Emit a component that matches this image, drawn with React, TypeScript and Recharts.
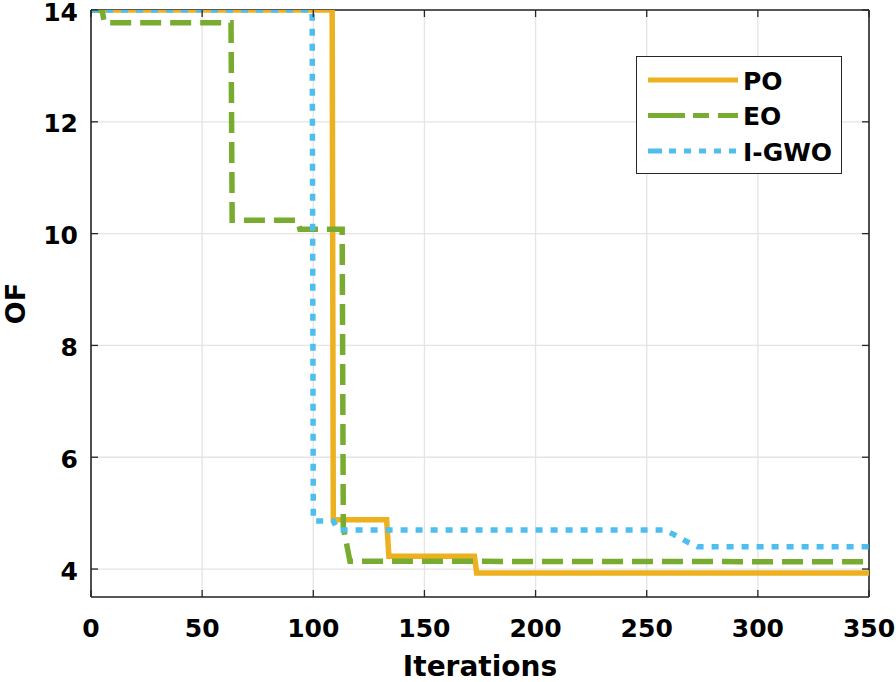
import React from 'react';
import { LineChart, Line, XAxis, YAxis, CartesianGrid, ReferenceLine } from 'recharts';

const iterTicks = [0, 50, 100, 150, 200, 250, 300, 350];
const ofTicks = [4, 6, 8, 10, 12, 14];

const poIter = [0, 108.5, 109, 133, 134, 172.5, 173.5, 350];
const poOF = [14, 14, 4.88, 4.88, 4.23, 4.23, 3.93, 3.93];

const eoIter = [0, 5, 6, 63, 63.5, 93, 94, 113, 113.5, 116.5, 350];
const eoOF = [14, 14, 13.77, 13.77, 10.24, 10.24, 10.08, 10.08, 4.75, 4.14, 4.13];

const gwoIter = [0, 99.5, 100, 109, 111, 258, 263, 269, 273, 350];
const gwoOF = [14, 14, 4.86, 4.86, 4.7, 4.7, 4.6, 4.47, 4.4, 4.4];

const seriesNames = ['PO', 'EO', 'I-GWO'];
const seriesColors = ['#EDB120', '#77AC30', '#4DBEEE'];

const zip = (xs: number[], ys: number[]) => xs.map((x, i) => ({ x, y: ys[i] }));
const poData = zip(poIter, poOF);
const eoData = zip(eoIter, eoOF);
const gwoData = zip(gwoIter, gwoOF);

const FONT = 'DejaVu Sans';
const AXIS = '#262626';
const W = 896;
const H = 682;
const M = { top: 10, right: 27, bottom: 0, left: 0 };
const YW = 91;
const XH = 85;
const PLOT_H = H - M.top - XH;
const PLOT_W = W - YW - M.right;

const XTick = (props: any) => {
  const { x, y, payload } = props;
  return (
    <g>
      <line x1={x} x2={x} y1={y} y2={y - 7} stroke={AXIS} strokeWidth={1.3} />
      <line x1={x} x2={x} y1={y - PLOT_H} y2={y - PLOT_H + 7} stroke={AXIS} strokeWidth={1.3} />
      <text x={x} y={y + 31} textAnchor="middle" dominantBaseline="central" fontFamily={FONT} fontWeight="bold" fontSize={25} fill="#000">
        {payload.value}
      </text>
    </g>
  );
};

const YTick = (props: any) => {
  const { x, y, payload } = props;
  return (
    <g>
      <line x1={x} x2={x + 7} y1={y} y2={y} stroke={AXIS} strokeWidth={1.3} />
      <line x1={x + PLOT_W} x2={x + PLOT_W - 7} y1={y} y2={y} stroke={AXIS} strokeWidth={1.3} />
      <text x={x - 13} y={y + 2} textAnchor="end" dominantBaseline="central" fontFamily={FONT} fontWeight="bold" fontSize={25} fill="#000">
        {payload.value}
      </text>
    </g>
  );
};

const XLabel = (props: any) => {
  const vb = props.viewBox;
  return (
    <text x={vb.x + vb.width / 2} y={vb.y + 79} textAnchor="middle" fontFamily={FONT} fontWeight="bold" fontSize={28} fill="#000">
      Iterations
    </text>
  );
};

const YLabel = (props: any) => {
  const vb = props.viewBox;
  const cx = 15;
  const cy = vb.y + vb.height / 2;
  return (
    <text x={cx} y={cy} transform={`rotate(-90 ${cx} ${cy})`} textAnchor="middle" dominantBaseline="central" fontFamily={FONT} fontWeight="bold" fontSize={27} fill="#000">
      OF
    </text>
  );
};

const legendDash = ['0', '37 8 16 9 21', '14 7 7 8 7 8 7 8 7 8 7 8'];

const LegendBox = () => (
  <div style={{ position: 'absolute', left: 636, top: 56, width: 206, height: 118, boxSizing: 'border-box', border: `1.5px solid ${AXIS}`, background: '#fff' }}>
    <svg width={203} height={115} style={{ display: 'block' }}>
      {seriesNames.map((n, i) => {
        const yy = 23 + i * 35.5;
        return (
          <g key={n}>
            <line x1={11} x2={101} y1={yy} y2={yy} stroke={seriesColors[i]} strokeWidth={5} strokeDasharray={i === 0 ? undefined : legendDash[i]} />
            <text x={106} y={yy + 1} dominantBaseline="central" fontFamily={FONT} fontWeight="bold" fontSize={25} fill="#000">
              {n}
            </text>
          </g>
        );
      })}
    </svg>
  </div>
);

export default function App() {
  return (
    <div style={{ position: 'absolute', left: 0, top: 0, width: W, height: H, background: '#fff' }}>
      <LineChart width={W} height={H} margin={M}>
        <CartesianGrid stroke="#e4e4e4" strokeWidth={1.3} />
        <XAxis
          dataKey="x"
          type="number"
          domain={[0, 350]}
          ticks={iterTicks}
          allowDataOverflow
          height={XH}
          tickSize={0}
          tickMargin={0}
          tickLine={false}
          tick={<XTick />}
          axisLine={{ stroke: AXIS, strokeWidth: 1.6 }}
          label={<XLabel />}
          interval={0}
        />
        <YAxis
          type="number"
          domain={[3.5, 14]}
          ticks={ofTicks}
          allowDataOverflow
          width={YW}
          tickSize={0}
          tickMargin={0}
          tickLine={false}
          tick={<YTick />}
          axisLine={{ stroke: AXIS, strokeWidth: 1.6 }}
          label={<YLabel />}
          interval={0}
        />
        <ReferenceLine y={14} stroke={AXIS} strokeWidth={1.6} ifOverflow="visible" />
        <ReferenceLine x={350} stroke={AXIS} strokeWidth={1.6} ifOverflow="visible" />
        <Line data={poData} dataKey="y" name="PO" type="linear" stroke={seriesColors[0]} strokeWidth={5.5} dot={false} activeDot={false} isAnimationActive={false} />
        <Line data={eoData} dataKey="y" name="EO" type="linear" stroke={seriesColors[1]} strokeWidth={5.5} strokeDasharray="21 9" dot={false} activeDot={false} isAnimationActive={false} />
        <Line data={gwoData} dataKey="y" name="I-GWO" type="linear" stroke={seriesColors[2]} strokeWidth={5.5} strokeDasharray="7 8" dot={false} activeDot={false} isAnimationActive={false} />
      </LineChart>
      <LegendBox />
    </div>
  );
}
